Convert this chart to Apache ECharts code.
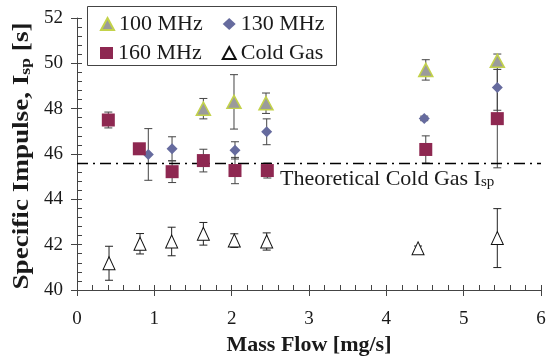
<!DOCTYPE html>
<html>
<head>
<meta charset="utf-8">
<script src="https://cdn.jsdelivr.net/npm/echarts@6/dist/echarts.min.js"></script>
<style>html,body{margin:0;padding:0;background:#fff}#c{width:548px;height:360px}</style>
</head>
<body>
<div id="c"></div>
<script>
// ---- data ----
const x100 = [1.634, 2.03, 2.444, 4.51, 5.435];
const y100 = [48.0, 48.3, 48.24, 49.71, 50.11];
const e100 = [0.45, 1.2, 0.45, 0.45, 0.3];

const x130 = [0.922, 1.229, 2.043, 2.453, 4.49, 5.435];
const y130 = [45.98, 46.23, 46.16, 46.98, 47.57, 48.93];
const e130 = [1.14, 0.53, 0.38, 0.57, 0.1, 1.0];

const x160 = [0.405, 0.806, 1.23, 1.634, 2.043, 2.461, 4.51, 5.435];
const y160 = [47.50, 46.23, 45.22, 45.71, 45.27, 45.27, 46.2, 47.56];
const e160 = [0.35, 0.22, 0.48, 0.5, 0.58, 0.33, 0.6, 2.17];

const xCold = [0.414, 0.815, 1.224, 1.634, 2.034, 2.453, 4.41, 5.435];
const yCold = [41.18, 42.04, 42.14, 42.48, 42.18, 42.14, 41.84, 42.29];
const eCold = [0.75, 0.45, 0.63, 0.5, 0.3, 0.38, 0.1, 1.3];

const theoIsp = 45.58;
const xRange = [0, 6];
const yRange = [40, 52];
const legendRow1 = ['100 MHz', '130 MHz'];
const legendRow2 = ['160 MHz', 'Cold Gas'];

// ---- build ----
const FONT = '"Liberation Serif", "Times New Roman", serif';
function pts(xs, ys) { return xs.map((x, i) => [x, ys[i]]); }
function errPts(xs, ys, es) { return xs.map((x, i) => [x, ys[i], es[i]]); }

function errSeries(data, color) {
  return {
    type: 'custom', z: 1, silent: true,
    data: data,
    renderItem: function (params, api) {
      const x = api.value(0), y = api.value(1), e = api.value(2);
      const t = api.coord([x, y + e]);
      const b = api.coord([x, y - e]);
      const w = 4;
      const st = { stroke: color, lineWidth: 1 };
      return {
        type: 'group', children: [
          { type: 'line', shape: { x1: t[0], y1: t[1], x2: b[0], y2: b[1] }, style: st },
          { type: 'line', shape: { x1: t[0] - w, y1: t[1], x2: t[0] + w, y2: t[1] }, style: st },
          { type: 'line', shape: { x1: b[0] - w, y1: b[1], x2: b[0] + w, y2: b[1] }, style: st }
        ]
      };
    }
  };
}

const chart = echarts.init(document.getElementById('c'));
const axisTxt = { fontFamily: FONT, fontSize: 19, color: '#1a1a1a' };
const legendBase = {
  orient: 'horizontal', left: 100,
  itemWidth: 13, itemHeight: 12, itemGap: 20, padding: 0,
  textStyle: { fontFamily: FONT, fontSize: 22, color: '#1a1a1a' }
};

const option = {
  animation: false,
  backgroundColor: '#fff',
  textStyle: { fontFamily: FONT },
  grid: { left: 77, right: 7, top: 18, bottom: 70, containLabel: false, outerBoundsMode: 'none' },
  legend: [
    Object.assign({ data: legendRow1, top: 13 }, legendBase),
    Object.assign({ data: legendRow2, top: 42 }, legendBase)
  ],
  xAxis: [{
    type: 'value', min: xRange[0], max: xRange[1], interval: 1, position: 'bottom',
    name: 'Mass Flow [mg/s]', nameLocation: 'middle', nameGap: 39,
    nameTextStyle: { fontFamily: FONT, fontSize: 22, fontWeight: 'bold', color: '#1a1a1a' },
    axisLine: { lineStyle: { color: '#444', width: 1 } },
    axisTick: { show: true, inside: false, length: 6, lineStyle: { color: '#444' } },
    axisLabel: Object.assign({ margin: 20 }, axisTxt),
    splitLine: { show: false }
  }, {
    type: 'value', min: xRange[0], max: xRange[1], interval: 1, position: 'bottom',
    axisLine: { show: false },
    axisTick: { show: true, inside: true, length: 5, lineStyle: { color: '#444' } },
    minorTick: { show: true, splitNumber: 5, length: 5, lineStyle: { color: '#444' } },
    axisLabel: { show: false }, splitLine: { show: false }
  }],
  yAxis: [{
    type: 'value', min: yRange[0], max: yRange[1], interval: 2, position: 'left',
    axisLine: { show: true, lineStyle: { color: '#444', width: 1 } },
    axisTick: { show: true, inside: false, length: 6, lineStyle: { color: '#444' } },
    axisLabel: Object.assign({ margin: 14 }, axisTxt),
    splitLine: { show: false }
  }, {
    type: 'value', min: yRange[0], max: yRange[1], interval: 2, position: 'left',
    axisLine: { show: false },
    axisTick: { show: true, inside: true, length: 5, lineStyle: { color: '#444' } },
    minorTick: { show: true, splitNumber: 5, length: 5, lineStyle: { color: '#444' } },
    axisLabel: { show: false }, splitLine: { show: false }
  }],
  series: [
    {
      type: 'line', z: 1, silent: true, symbol: 'none',
      data: [[xRange[0], theoIsp], [xRange[1], theoIsp]],
      lineStyle: { color: '#000', width: 1.6, type: [11, 5, 2, 5] }
    },
    errSeries(errPts(x100, y100, e100), '#444'),
    errSeries(errPts(x130, y130, e130), '#444'),
    errSeries(errPts(x160, y160, e160), '#444'),
    errSeries(errPts(xCold, yCold, eCold), '#222'),
    {
      name: '100 MHz', type: 'scatter', z: 3, symbol: 'triangle', symbolSize: [14, 13],
      data: pts(x100, y100),
      itemStyle: { color: '#9b9b9b', borderColor: '#c3d24a', borderWidth: 1.5, opacity: 1 }
    },
    {
      name: '130 MHz', type: 'scatter', z: 3, symbol: 'diamond', symbolSize: [11, 11],
      data: pts(x130, y130),
      itemStyle: { color: '#666b9e', opacity: 1 }
    },
    {
      name: '160 MHz', type: 'scatter', z: 3, symbol: 'rect', symbolSize: [13, 13],
      data: pts(x160, y160),
      itemStyle: { color: '#8e2851', opacity: 1 }
    },
    {
      name: 'Cold Gas', type: 'scatter', z: 3, symbol: 'triangle', symbolSize: [12, 13],
      data: pts(xCold, yCold),
      itemStyle: { color: '#fff', borderColor: '#111', borderWidth: 1, opacity: 1 }
    }
  ],
  graphic: [{
    type: 'rect', silent: true, z: 10,
    shape: { x: 87.5, y: 6.5, width: 249, height: 59 },
    style: { fill: 'none', stroke: '#444', lineWidth: 1 }
  }, {
    type: 'text', silent: true, z: 10,
    x: 21, y: 156, rotation: Math.PI / 2, scaleX: 1.18,
    style: {
      align: 'center', verticalAlign: 'middle',
      rich: {
        a: { fontFamily: FONT, fontSize: 23, fontWeight: 'bold', fill: '#1a1a1a', verticalAlign: 'bottom', lineHeight: 26 },
        s: { fontFamily: FONT, fontSize: 15, fontWeight: 'bold', fill: '#1a1a1a', verticalAlign: 'bottom', lineHeight: 19 }
      },
      text: '{a|Specific Impulse, I}{s|sp}{a| [s]}'
    }
  }, {
    type: 'text', left: 280, top: 168, silent: true,
    style: {
      rich: {
        a: { fontFamily: FONT, fontSize: 22, fill: '#1a1a1a', verticalAlign: 'bottom', lineHeight: 26 },
        s: { fontFamily: FONT, fontSize: 15, fill: '#1a1a1a', verticalAlign: 'bottom', lineHeight: 19 }
      },
      text: '{a|Theoretical Cold Gas I}{s|sp}'
    }
  }]
};
chart.setOption(option);
</script>
</body>
</html>
